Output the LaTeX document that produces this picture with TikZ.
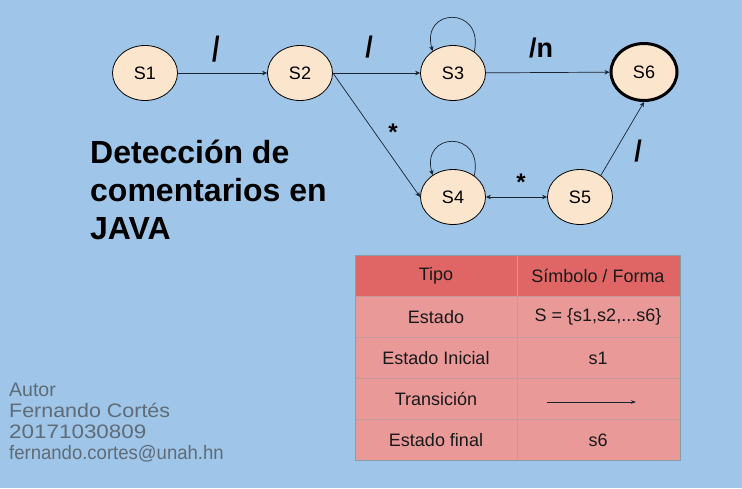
\documentclass[tikz,border=0pt]{standalone}
\usepackage{fontspec}
\setmainfont{Liberation Sans}
\usepackage{graphicx}
\usetikzlibrary{shapes.geometric,arrows.meta}
\definecolor{bg}{HTML}{9FC5E8}
\definecolor{stfill}{HTML}{FCE5CD}
\definecolor{hdr}{HTML}{E06666}
\definecolor{rowc}{HTML}{EA9999}
\definecolor{authc}{HTML}{5F6B77}
\definecolor{gridc}{HTML}{C49A9A}
\definecolor{edgec}{HTML}{1A2330}
\begin{document}
\begin{tikzpicture}[x=1pt,y=-1pt,
  state/.style={ellipse,draw=black,fill=stfill,line width=0.8pt,minimum width=65pt,minimum height=55pt,inner sep=0pt,font=\fontsize{18}{20}\selectfont},
  arr/.style={-{Stealth[length=5pt,width=4.5pt]},line width=0.7pt,draw=edgec},
  lbl/.style={font=\fontsize{27}{29}\bfseries\selectfont,inner sep=0pt},
  star/.style={font=\fontsize{24}{26}\bfseries\selectfont,inner sep=0pt},
  title/.style={font=\fontsize{32}{38}\bfseries\selectfont,inner sep=0pt,anchor=base west},
  auth/.style={font=\fontsize{19.5}{22}\selectfont,text=authc,inner sep=0pt,anchor=base west},
  cell/.style={font=\fontsize{18}{20}\selectfont,inner sep=0pt,text=black!90}]
\fill[bg] (0,0) rectangle (742,488);
\useasboundingbox (0,0) rectangle (742,488);

% states
\node[state] (s1) at (145,73) {S1};
\node[state] (s2) at (300,73) {S2};
\node[state] (s3) at (453,73) {S3};
\node[state,line width=3pt,minimum width=66pt,minimum height=57pt] (s6) at (644,72) {S6};
\node[state] (s4) at (453,197) {S4};
\node[state] (s5) at (580,197) {S5};

% transitions
\draw[arr] (s1) -- (s2);
\draw[arr] (s2) -- (s3);
\draw[arr] (s3) -- (s6);
\draw[arr] (s2.east) -- (s4.west);
\draw[arr,{Stealth[length=5pt,width=4.5pt]}-{Stealth[length=5pt,width=4.5pt]}] (s4) -- (s5);
\draw[arr] (s5.46) -- (s6.south);
\draw[arr] (s3.45) .. controls +(10,-46) and +(-12,-44) .. (s3.133);
\draw[arr] (s4.45) .. controls +(10,-46) and +(-12,-44) .. (s4.133);

% labels
\node[lbl] (l1) at (216,49) {\scalebox{1}[1.3]{/}};
\node[lbl] (l2) at (369,47) {\scalebox{1}[1.1]{/}};
\node[lbl] (l3) at (541,48) {/n};
\node[lbl] (l4) at (638,151) {\scalebox{1}[1.1]{/}};
\node[star] (a1) at (393,132) {*};
\node[star] (a2) at (521,182) {*};

% title
\node[title] (t1) at (90,163) {Detección de};
\node[title] (t2) at (90,201) {comentarios en};
\node[title] (t3) at (90,239) {JAVA};

% author
\node[auth] (u1) at (9,396) {Autor};
\node[auth] (u2) at (9,417) {\scalebox{1.1}[1]{Fernando Cortés}};
\node[auth] (u3) at (9,438) {\scalebox{1.15}[1]{20171030809}};
\node[auth] (u4) at (9,459) {\scalebox{0.95}[1]{fernando.cortes@unah.hn}};

% table
\fill[hdr] (355,255) rectangle (680,296);
\fill[rowc] (355,296) rectangle (680,460);
\draw[gridc,line width=0.6pt] (355,296) -- (680,296)
  (355,337) -- (680,337) (355,378) -- (680,378) (355,419) -- (680,419)
  (517,255) -- (517,460);
\draw[gray!60!bg,line width=0.8pt] (355,255) rectangle (680,460);
\node[cell] (h1) at (436,276) {Tipo};
\node[cell] (h2) at (598,276) {Símbolo / Forma};
\node[cell] (c1) at (436,317) {Estado};
\node[cell] (d1) at (598,317) {S = \{s1,s2,...s6\}};
\node[cell] (c2) at (436,358) {Estado Inicial};
\node[cell] (d2) at (598,358) {s1};
\node[cell] (c3) at (436,399) {Transición};
\coordinate (ta) at (547,402);
\coordinate (tb) at (636,402);
\draw[-{Stealth[length=5pt,width=3.5pt]},line width=0.7pt,draw=edgec] (ta) -- (tb);
\node[cell] (c4) at (436,440) {Estado final};
\node[cell] (d4) at (598,440) {s6};
\end{tikzpicture}
\end{document}
